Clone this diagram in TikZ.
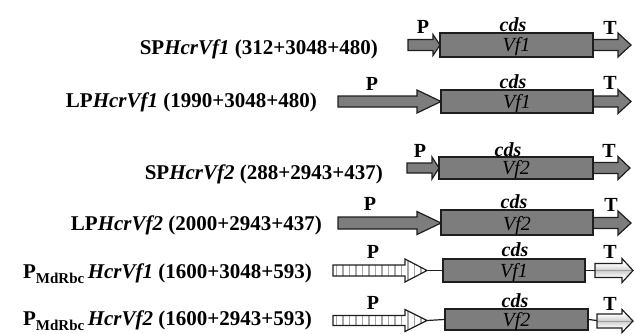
\documentclass[tikz,border=0pt]{standalone}
\usepackage{fontspec}
\setmainfont{Liberation Serif}
\definecolor{genegray}{RGB}{125,125,125}
\definecolor{edgec}{RGB}{30,30,30}
\tikzset{
  cdsbox/.style={draw=edgec, line width=1.2pt, fill=genegray, inner sep=0pt, font=\fontsize{20}{20}\selectfont\itshape},
  tag/.style={anchor=base, inner sep=0pt, font=\fontsize{20}{20}\selectfont\bfseries},
  cdstag/.style={anchor=base, inner sep=0pt, font=\fontsize{20}{20}\selectfont\bfseries\itshape},
  rowlabel/.style={anchor=base east, inner sep=0pt, font=\fontsize{21}{21}\selectfont\bfseries},
  solidarrow/.style={draw=edgec, line width=1.2pt, fill=genegray},
  outlinearrow/.style={draw=edgec, line width=1.2pt},
  link/.style={draw=edgec, line width=1.2pt}
}
% #1 options, #2 x left, #3 x head start, #4 x tip, #5 y centre, #6 shaft half, #7 head half
\newcommand{\genearrow}[7][]{%
  \path[#1] (#2,{#5-#6}) -- (#3,{#5-#6}) -- (#3,{#5-#7}) -- (#4,#5) -- (#3,{#5+#7}) -- (#3,{#5+#6}) -- (#2,{#5+#6}) -- cycle;}
\newcommand{\vstripearrow}[6]{%
  \begin{scope}
    \genearrow[clip]{#1}{#2}{#3}{#4}{#5}{#6}
    \fill[white] (#1,{#4-20}) rectangle (#3,{#4+20});
    \foreach \xx in {0,...,16} {\draw[gray!70, line width=1.6pt] ({#1+3.5+6.5*\xx},{#4-20}) -- ({#1+3.5+6.5*\xx},{#4+20});}
  \end{scope}
  \genearrow[outlinearrow]{#1}{#2}{#3}{#4}{#5}{#6}}
\newcommand{\hstripearrow}[6]{%
  \begin{scope}
    \genearrow[clip]{#1}{#2}{#3}{#4}{#5}{#6}
    \shade[top color=white, bottom color=white, middle color=gray!40] (#1,{#4-#5}) rectangle (#3,{#4+#5});
    \fill[white] (#2,{#4-#6}) rectangle (#3,{#4-#5});
    \fill[white] (#2,{#4+#5}) rectangle (#3,{#4+#6});
    \draw[gray!75, line width=0.9pt] (#1,#4) -- (#3,#4);
  \end{scope}
  \genearrow[outlinearrow]{#1}{#2}{#3}{#4}{#5}{#6}}
\begin{document}
\begin{tikzpicture}[x=1pt,y=-1pt]
\useasboundingbox (0,0) rectangle (635,333);

% Row 1
\node[rowlabel] (l1) at (378,54) {SP\textit{HcrVf1} (312+3048+480)};
\genearrow[solidarrow]{408}{433}{440}{45}{5.5}{10.5}
\genearrow[solidarrow]{593}{618}{631}{45}{5.5}{12}
\node[cdsbox, minimum width=153pt, minimum height=24pt] (b1) at (516.5,45) {};
\node[cdsbox, draw=none, fill=none, anchor=base] (v1) at (516.5,51) {Vf1};
\node[tag] (p1) at (423,33) {P};
\node[cdstag] (c1) at (513,31) {cds};
\node[tag] (t1) at (610,34) {T};

% Row 2
\node[rowlabel] (l2) at (317,107) {LP\textit{HcrVf1} (1990+3048+480)};
\genearrow[solidarrow]{338}{417}{441}{101.5}{5.5}{11.5}
\genearrow[solidarrow]{593}{618}{631}{101.5}{5.5}{12}
\node[cdsbox, minimum width=152pt, minimum height=23pt] (b2) at (517,101.5) {};
\node[cdsbox, draw=none, fill=none, anchor=base] (v2) at (517,108) {Vf1};
\node[tag] (p2) at (372,90) {P};
\node[cdstag] (c2) at (513,88) {cds};
\node[tag] (t2) at (610,89) {T};

% Row 3
\node[rowlabel] (l3) at (383,179) {SP\textit{HcrVf2} (288+2943+437)};
\genearrow[solidarrow]{407}{432}{439}{168}{5}{11}
\genearrow[solidarrow]{593}{618}{630}{168}{5.5}{11.5}
\node[cdsbox, minimum width=154pt, minimum height=22pt] (b3) at (516,168) {};
\node[cdsbox, draw=none, fill=none, anchor=base] (v3) at (516,174.5) {Vf2};
\node[tag] (p3) at (420,157) {P};
\node[cdstag] (c3) at (508,156) {cds};
\node[tag] (t3) at (609,157) {T};

% Row 4
\node[rowlabel] (l4) at (322,230) {LP\textit{HcrVf2} (2000+2943+437)};
\genearrow[solidarrow]{338}{417}{441}{223}{6}{11.5}
\genearrow[solidarrow]{593}{618}{631}{223}{5.5}{12}
\node[cdsbox, minimum width=152pt, minimum height=25pt] (b4) at (517,222.5) {};
\node[cdsbox, draw=none, fill=none, anchor=base] (v4) at (517,230) {Vf2};
\node[tag] (p4) at (370,210) {P};
\node[cdstag] (c4) at (514,208) {cds};
\node[tag] (t4) at (611,211) {T};

% Row 5
\node[rowlabel] (l5) at (312,278) {P\raisebox{-5pt}{\fontsize{15}{15}\selectfont MdRbc}\,\textit{HcrVf1} (1600+3048+593)};
\vstripearrow{333}{405}{427}{270.5}{5.5}{11.5}
\hstripearrow{595}{622}{633}{270.5}{7}{12}
\node[cdsbox, minimum width=142pt, minimum height=23pt] (b5) at (514,270.5) {};
\node[cdsbox, draw=none, fill=none, anchor=base] (v5) at (514,277) {Vf1};
\coordinate (p5tip) at (427,270.5);
\coordinate (t5start) at (595,270.5);
\draw[link] (p5tip) -- (b5.west);
\draw[link] (b5.east) -- (t5start);
\node[tag] (p5) at (373,258) {P};
\node[cdstag] (c5) at (515,256) {cds};
\node[tag] (t5) at (610,258) {T};

% Row 6
\node[rowlabel] (l6) at (312,325) {P\raisebox{-5pt}{\fontsize{15}{15}\selectfont MdRbc}\,\textit{HcrVf2} (1600+2943+593)};
\vstripearrow{333}{405}{427}{320.5}{5}{11}
\hstripearrow{597}{622}{633}{321}{7}{11.5}
\node[cdsbox, minimum width=143pt, minimum height=21pt] (b6) at (516.5,319.5) {};
\node[cdsbox, draw=none, fill=none, anchor=base] (v6) at (516.5,326) {Vf2};
\coordinate (p6tip) at (427,320.5);
\coordinate (t6start) at (597,320.5);
\draw[link] (p6tip) -- (b6.west);
\draw[link] (b6.east) -- (t6start);
\node[tag] (p6) at (373,309) {P};
\node[cdstag] (c6) at (515,307) {cds};
\node[tag] (t6) at (610,310) {T};
\end{tikzpicture}
\end{document}
